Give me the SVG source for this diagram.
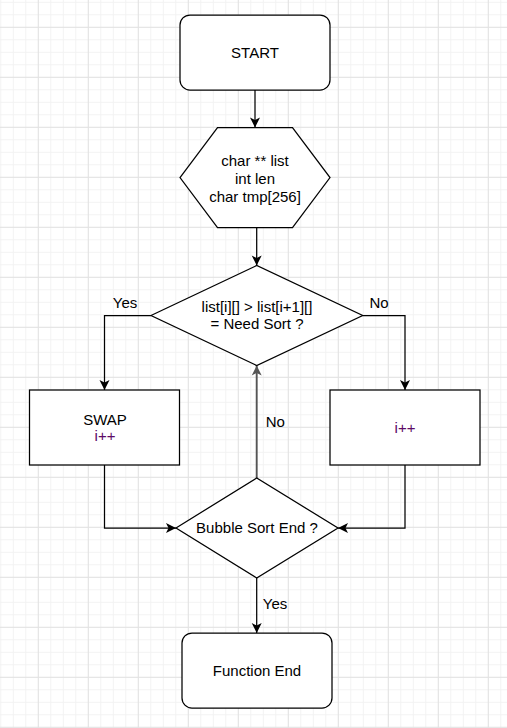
<svg xmlns="http://www.w3.org/2000/svg" width="507" height="728" viewBox="0 0 507 728">
  <style>
    .node { fill: #ffffff; stroke: #000000; stroke-width: 1.25; }
    .edge { fill: none; stroke: #000000; stroke-width: 1.25; }
    .edge-gray { fill: none; stroke: #555555; stroke-width: 1.9; }
    text { font-family: "Liberation Sans", Arial, sans-serif; font-size: 15px; fill: #000000; text-anchor: middle; }
    .purple { fill: #5c0a66; }
  </style>
  <defs>
    <pattern id="minor" patternUnits="userSpaceOnUse" x="0.3" y="1.8" width="12.5" height="12.5">
      <rect x="0" y="0" width="1" height="12.5" fill="#f2f2f2"/>
      <rect x="0" y="0" width="12.5" height="1" fill="#f2f2f2"/>
    </pattern>
    <pattern id="major" patternUnits="userSpaceOnUse" x="37.8" y="26.8" width="50" height="50">
      <rect x="0" y="0" width="1" height="50" fill="#e2e2e2"/>
      <rect x="0" y="0" width="50" height="1" fill="#e2e2e2"/>
    </pattern>
    <marker id="arrow" markerUnits="userSpaceOnUse" viewBox="-11 -6 12 12" refX="0" refY="0" markerWidth="12" markerHeight="12" orient="auto">
      <path d="M0,0 L-10,-5 L-7.5,0 L-10,5 Z" fill="#000000"/>
    </marker>
    <marker id="arrow-gray" markerUnits="userSpaceOnUse" viewBox="-11 -6 12 12" refX="0" refY="0" markerWidth="12" markerHeight="12" orient="auto">
      <path d="M0,0 L-10,-5 L-7.5,0 L-10,5 Z" fill="#555555"/>
    </marker>
  </defs>

  <rect x="0" y="0" width="507" height="728" fill="#ffffff"/>
  <rect x="0" y="0" width="507" height="728" fill="url(#minor)"/>
  <rect x="0" y="0" width="507" height="728" fill="url(#major)"/>

  <g id="connectors">
    <path class="edge" d="M255,90 L255,127.5" marker-end="url(#arrow)"/>
    <path class="edge" d="M256.7,227.5 L256.7,265.5" marker-end="url(#arrow)"/>
    <path class="edge" d="M151,315.5 L104.5,315.5 L104.5,390" marker-end="url(#arrow)"/>
    <path class="edge" d="M362.7,315.5 L405,315.5 L405,390" marker-end="url(#arrow)"/>
    <path class="edge" d="M104.5,465 L104.5,528 L176,528" marker-end="url(#arrow)"/>
    <path class="edge" d="M405,465 L405,528 L338,528" marker-end="url(#arrow)"/>
    <path class="edge-gray" d="M256.7,478 L256.7,365.5" marker-end="url(#arrow-gray)"/>
    <path class="edge" d="M256.7,578 L256.7,633" marker-end="url(#arrow)"/>
    <text x="125" y="308">Yes</text>
    <text x="379" y="308">No</text>
    <text x="275.3" y="426.7">No</text>
    <text x="275" y="609">Yes</text>
  </g>

  <g id="start">
    <rect class="node" x="180" y="15" width="150" height="75" rx="10" ry="10"/>
    <text x="255" y="57.8">START</text>
  </g>

  <g id="vars">
    <polygon class="node" points="180,177.5 217.5,127.5 292.5,127.5 330,177.5 292.5,227.5 217.5,227.5"/>
    <text x="255" y="165.5">char ** list</text>
    <text x="255" y="183.5">int len</text>
    <text x="255" y="201.5">char tmp[256]</text>
  </g>

  <g id="need-sort">
    <polygon class="node" points="151,315.5 256.7,265.5 362.7,315.5 256.7,365.5"/>
    <text x="257" y="311.8">list[i][] &gt; list[i+1][]</text>
    <text x="257" y="329.3">= Need Sort ?</text>
  </g>

  <g id="swap">
    <rect class="node" x="29.5" y="390" width="150" height="75"/>
    <text x="105" y="425">SWAP</text>
    <text class="purple" x="105" y="441">i++</text>
  </g>

  <g id="increment">
    <rect class="node" x="330" y="390" width="150" height="75"/>
    <text class="purple" x="405" y="432.8">i++</text>
  </g>

  <g id="sort-end">
    <polygon class="node" points="176,528 256.7,478 338,528 256.7,578"/>
    <text x="257" y="533.3">Bubble Sort End ?</text>
  </g>

  <g id="function-end">
    <rect class="node" x="182" y="633" width="150" height="75" rx="10" ry="10"/>
    <text x="257" y="675.8">Function End</text>
  </g>
</svg>
